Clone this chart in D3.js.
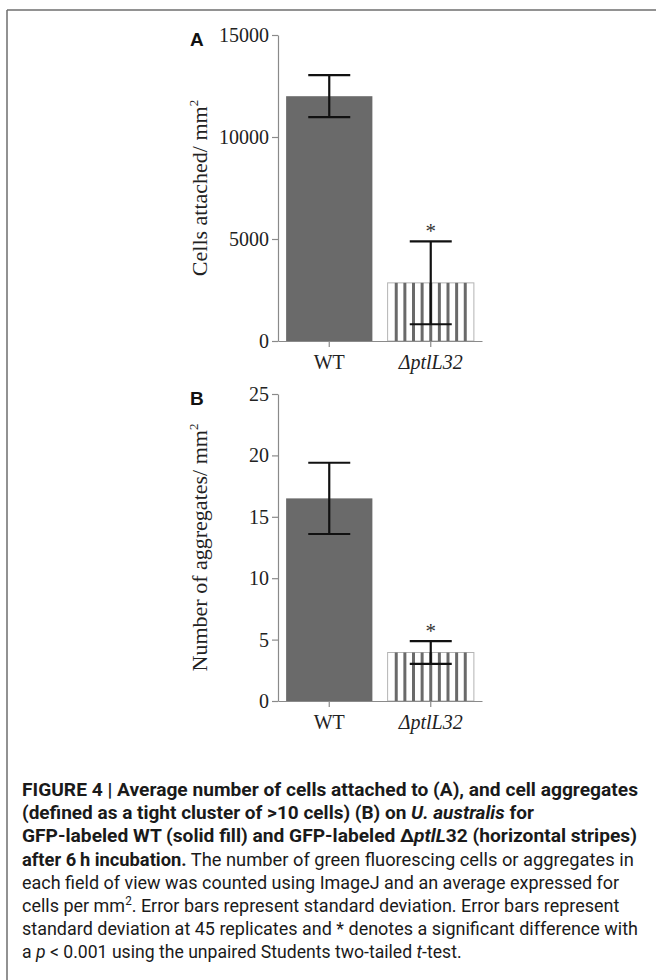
<!DOCTYPE html>
<html>
<head>
<meta charset="utf-8">
<script src="https://cdn.jsdelivr.net/npm/d3@7"></script>
<style>
  body { margin: 0; background: #fff; }
  svg { display: block; }
</style>
</head>
<body>
<div id="chart"></div>
<script>
// values
var categories = ["WT", "\u0394ptlL32"];
var cellsMean = [12000, 2850];
var cellsSD = [1030, 2030];
var cellsTicks = [0, 5000, 10000, 15000];
var aggMean = [16.5, 3.95];
var aggSD = [2.9, 0.92];
var aggTicks = [0, 5, 10, 15, 20, 25];
var significant = [false, true];

var captionLines = [
    [["b", "FIGURE 4 | Average number of cells attached to (A), and cell aggregates"]],
    [["b", "(defined as a tight cluster of >10 cells) (B) on "], ["bi", "U. australis"], ["b", " for"]],
    [["b", "GFP-labeled WT (solid fill) and GFP-labeled \u0394"], ["bi", "ptlL"], ["b", "32 (horizontal stripes)"]],
    [["b", "after 6\u2009h incubation."], ["n", " The number of green fluorescing cells or aggregates in"]],
    [["n", "each field of view was counted using ImageJ and an average expressed for"]],
    [["n", "cells per mm"], ["sup", "2"], ["n", ". Error bars represent standard deviation. Error bars represent"]],
    [["n", "standard deviation at 45 replicates and * denotes a significant difference with"]],
    [["n", "a "], ["i", "p"], ["n", " < 0.001 using the unpaired Students two-tailed "], ["i", "t"], ["n", "-test."]]
];

var W = 656, H = 980;
var serif = "'Liberation Serif', 'Times New Roman', serif";
var sans = "'Liberation Sans', Arial, sans-serif";

var svg = d3.select("#chart").append("svg")
    .attr("width", W)
    .attr("height", H);

// frame (top + left rule)
svg.append("line").attr("x1", 7).attr("x2", W).attr("y1", 10).attr("y2", 10)
    .attr("stroke", "#6e6e6e").attr("stroke-width", 1.5);
svg.append("line").attr("x1", 7).attr("x2", 7).attr("y1", 10).attr("y2", H)
    .attr("stroke", "#6e6e6e").attr("stroke-width", 1.5);

function drawPanel(opts) {
    var g = svg.append("g");
    var y = d3.scaleLinear()
        .domain([0, d3.max(opts.ticks)])
        .range([opts.y0, opts.y1]);
    var x = d3.scaleBand()
        .domain(categories)
        .range([278, 482])
        .paddingInner(0.15)
        .paddingOuter(0.08);

    // bars
    var bars = g.selectAll(".bar")
        .data(opts.mean)
        .enter().append("g")
        .attr("class", "bar");

    bars.each(function (d, i) {
        var b = d3.select(this);
        var left = x(categories[i]);
        var bw = x.bandwidth();
        if (i === 0) {
            b.append("rect")
                .attr("x", left).attr("y", y(d))
                .attr("width", bw).attr("height", y(0) - y(d))
                .attr("fill", "#6a6a6a");
        } else {
            b.append("rect")
                .attr("x", left).attr("y", y(d))
                .attr("width", bw).attr("height", y(0) - y(d))
                .attr("fill", "#fff")
                .attr("stroke", "#b4b4b4").attr("stroke-width", 1);
            for (var k = 1; k < 10; k++) {
                b.append("line")
                    .attr("x1", left + k * bw / 10).attr("x2", left + k * bw / 10)
                    .attr("y1", y(d)).attr("y2", y(0))
                    .attr("stroke", "#6a6a6a").attr("stroke-width", 3);
            }
        }
    });

    // error bars
    var cap = 21;
    opts.mean.forEach(function (m, i) {
        var cx = x(categories[i]) + x.bandwidth() / 2;
        var hi = m + opts.sd[i], lo = m - opts.sd[i];
        var e = g.append("g").attr("stroke", "#111").attr("stroke-width", 2.2);
        e.append("line").attr("x1", cx).attr("x2", cx).attr("y1", y(hi)).attr("y2", y(lo));
        e.append("line").attr("x1", cx - cap).attr("x2", cx + cap).attr("y1", y(hi)).attr("y2", y(hi));
        e.append("line").attr("x1", cx - cap).attr("x2", cx + cap).attr("y1", y(lo)).attr("y2", y(lo));
        if (significant[i]) {
            g.append("text")
                .attr("x", cx).attr("y", y(hi) - 3)
                .attr("text-anchor", "middle")
                .attr("font-family", serif).attr("font-size", 21)
                .attr("fill", "#333")
                .text("*");
        }
    });

    // y axis
    var yAxis = g.append("g")
        .attr("transform", "translate(278,0)")
        .call(d3.axisLeft(y).tickValues(opts.ticks).tickFormat(d3.format("d"))
            .tickSize(6).tickSizeOuter(0).tickPadding(3));
    yAxis.selectAll("text").attr("font-family", serif).attr("font-size", 20).attr("fill", "#222");

    // x axis
    var xAxis = g.append("g")
        .attr("transform", "translate(0," + y(0) + ")")
        .call(d3.axisBottom(x).tickSize(6).tickSizeOuter(0).tickPadding(8));
    xAxis.selectAll("text")
        .attr("font-family", serif).attr("font-size", 20).attr("fill", "#222")
        .attr("font-style", function (d, i) { return i === 1 ? "italic" : "normal"; });

    g.selectAll(".domain, .tick line").attr("stroke", "#8a8a8a").attr("stroke-width", 1.2);

    // y label
    var yl = g.append("text")
        .attr("transform", "translate(207," + ((opts.y0 + opts.y1) / 2) + ") rotate(-90)")
        .attr("text-anchor", "middle")
        .attr("font-family", serif).attr("font-size", 22).attr("fill", "#222");
    yl.append("tspan").text(opts.label);
    yl.append("tspan").attr("dy", -9).attr("font-size", 13).text("2");

    // panel letter
    g.append("text")
        .attr("x", 190).attr("y", opts.y1 + 11)
        .attr("font-family", sans).attr("font-weight", "bold").attr("font-size", 19)
        .attr("fill", "#111")
        .text(opts.letter);
}

drawPanel({ mean: cellsMean, sd: cellsSD, ticks: cellsTicks, y0: 341, y1: 35,
    label: "Cells attached/ mm", letter: "A" });
drawPanel({ mean: aggMean, sd: aggSD, ticks: aggTicks, y0: 701, y1: 394,
    label: "Number of aggregates/ mm", letter: "B" });

// caption: narrow face faked by squeezing each line; bold and regular
// runs get their own squeeze so both fill the column like in the print
var capX = 22, capW = 616, capY0 = 796, lineH = 23.2;
var cap = svg.append("g")
    .attr("font-family", "Roboto, 'Liberation Sans', sans-serif")
    .attr("font-size", 18.5)
    .attr("fill", "#1a1a1a");

var lines = [];
captionLines.forEach(function (runs, li) {
    var t = cap.append("text")
        .attr("x", capX)
        .attr("y", capY0 + li * lineH);
    var shift = 0;
    var spans = [];
    runs.forEach(function (r) {
        var s = t.append("tspan").text(r[1]);
        if (r[0] === "b" || r[0] === "bi") s.attr("font-weight", "bold");
        if (r[0] === "bi" || r[0] === "i") s.attr("font-style", "italic");
        if (r[0] === "sup") {
            s.attr("font-size", 12).attr("dy", -7);
            shift = 7;
        } else if (shift) {
            s.attr("dy", shift);
            shift = 0;
        }
        spans.push({ bold: r[0] === "b" || r[0] === "bi", w: s.node().getComputedTextLength() });
    });
    lines.push({ t: t, spans: spans });
});

var boldFactor = capW / d3.sum(lines[0].spans, function (s) { return s.w; });
var normFactor = capW / d3.sum(lines[6].spans, function (s) { return s.w; });
lines.forEach(function (l) {
    var target = d3.sum(l.spans, function (s) { return s.w * (s.bold ? boldFactor : normFactor); });
    l.t.attr("textLength", target).attr("lengthAdjust", "spacingAndGlyphs");
});
</script>
</body>
</html>
